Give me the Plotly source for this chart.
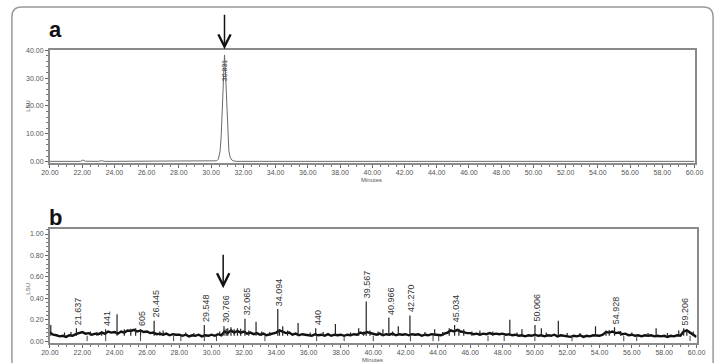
import plotly.graph_objects as go

W, H = 726, 363

# ---------------- Panel a data (typed from picture) ----------------
a_time = [20.0, 21.0, 21.9, 22.05, 22.2, 23.0, 23.2, 23.4, 25.0, 26.0, 28.0, 29.5, 30.2,
          30.35, 30.45, 30.55, 30.62, 30.68, 30.74, 30.79, 30.83, 30.87, 30.92, 30.98,
          31.04, 31.1, 31.18, 31.28, 31.4, 31.6, 33.0, 35.0, 37.0, 40.0, 45.0, 50.0, 55.0, 60.0]
a_lsu = [0.1, 0.1, 0.1, 0.6, 0.15, 0.1, 0.35, 0.1, 0.1, 0.1, 0.1, 0.1, 0.15,
         0.3, 0.9, 3.5, 8.5, 16.0, 26.0, 34.0, 38.3, 35.0, 27.0, 17.0,
         9.0, 4.0, 1.6, 0.6, 0.25, 0.1, 0.1, 0.15, 0.1, 0.1, 0.1, 0.1, 0.1, 0.1]
a_peak_time = 30.831
a_peak_label = "30.831"

# ---------------- Panel b data (typed from picture) ----------------
b_start, b_step = 20.0, 0.2
b_baseline = [
    0.08, 0.06, 0.055, 0.045, 0.05, 0.04, 0.055, 0.05, 0.065, 0.075,
    0.085, 0.07, 0.075, 0.06, 0.07, 0.065, 0.08, 0.07, 0.09, 0.08,
    0.085, 0.07, 0.09, 0.08, 0.10, 0.095, 0.105, 0.09, 0.10, 0.085,
    0.09, 0.075, 0.08, 0.065, 0.07, 0.06, 0.07, 0.055, 0.065, 0.06,
    0.06, 0.05, 0.06, 0.045, 0.055, 0.05, 0.06, 0.045, 0.055, 0.05,
    0.06, 0.05, 0.065, 0.055, 0.09, 0.075, 0.10, 0.08, 0.095, 0.08,
    0.09, 0.07, 0.08, 0.065, 0.075, 0.06, 0.07, 0.055, 0.065, 0.07,
    0.08, 0.10, 0.085, 0.075, 0.08, 0.06, 0.07, 0.055, 0.065, 0.06,
    0.06, 0.05, 0.065, 0.055, 0.06, 0.05, 0.065, 0.05, 0.06, 0.055,
    0.06, 0.05, 0.06, 0.055, 0.065, 0.06, 0.08, 0.07, 0.085, 0.075,
    0.07, 0.06, 0.07, 0.055, 0.065, 0.06, 0.07, 0.055, 0.065, 0.06,
    0.065, 0.055, 0.065, 0.06, 0.065, 0.05, 0.06, 0.055, 0.065, 0.06,
    0.06, 0.055, 0.07, 0.08, 0.10, 0.09, 0.105, 0.09, 0.085, 0.075,
    0.075, 0.065, 0.07, 0.06, 0.07, 0.065, 0.075, 0.065, 0.07, 0.065,
    0.07, 0.06, 0.065, 0.055, 0.06, 0.05, 0.055, 0.045, 0.055, 0.05,
    0.06, 0.05, 0.055, 0.045, 0.055, 0.05, 0.06, 0.045, 0.055, 0.05,
    0.05, 0.04, 0.05, 0.045, 0.055, 0.04, 0.05, 0.045, 0.055, 0.05,
    0.05, 0.06, 0.085, 0.08, 0.09, 0.075, 0.08, 0.065, 0.07, 0.055,
    0.06, 0.05, 0.055, 0.045, 0.055, 0.05, 0.055, 0.045, 0.05, 0.045,
    0.05, 0.04, 0.05, 0.045, 0.055, 0.05, 0.09, 0.10, 0.08, 0.06,
    0.04,
]
b_time = [round(b_start + i * b_step, 2) for i in range(len(b_baseline))]

# labelled peaks
b_peak_time = [21.637, 23.441, 25.605, 26.445, 29.548, 30.766, 32.065, 34.094, 36.440,
               39.567, 40.966, 42.270, 45.034, 50.006, 54.928, 59.206]
b_peak_height = [0.12, 0.11, 0.11, 0.19, 0.15, 0.14, 0.21, 0.30, 0.12,
                 0.37, 0.22, 0.24, 0.15, 0.15, 0.13, 0.12]
b_peak_label = ["21.637", "441", "605", "26.445", "29.548", "30.766", "32.065", "34.094", "440",
                "39.567", "40.966", "42.270", "45.034", "50.006", "54.928", "59.206"]
# unlabelled spikes
b_spike_time = [20.05, 24.15, 27.0, 31.2, 31.6, 32.75, 34.4, 35.35, 37.66, 39.1, 40.6,
                41.55, 43.8, 44.7, 46.6, 48.45, 49.2, 50.4, 51.45, 53.75, 57.5, 58.9]
b_spike_height = [0.15, 0.25, 0.10, 0.13, 0.12, 0.18, 0.14, 0.17, 0.16, 0.12, 0.11,
                  0.14, 0.11, 0.12, 0.10, 0.20, 0.11, 0.12, 0.19, 0.14, 0.12, 0.10]
# small noise spikes
b_noise_time = [20.9, 21.3, 22.5, 22.9, 23.2, 24.6, 25.0, 25.3, 26.8, 28.4, 28.9, 30.5, 30.9,
                31.0, 31.4, 31.8, 32.3, 33.1, 33.6, 34.2, 34.7, 36.1, 36.9, 38.6, 39.4,
                39.8, 40.3, 41.2, 43.2, 44.3, 45.3, 45.6, 46.1, 47.4, 48.9, 50.7, 52.0,
                52.8, 54.4, 54.6, 55.3, 56.0, 57.0, 58.2, 59.4, 59.8]
b_noise_height = [0.08, 0.085, 0.09, 0.085, 0.095, 0.11, 0.115, 0.12, 0.09, 0.08, 0.075, 0.09, 0.115,
                  0.12, 0.11, 0.115, 0.1, 0.09, 0.085, 0.11, 0.1, 0.08, 0.085, 0.08, 0.09,
                  0.1, 0.09, 0.09, 0.085, 0.085, 0.115, 0.11, 0.09, 0.09, 0.08, 0.08, 0.075,
                  0.075, 0.1, 0.105, 0.095, 0.08, 0.075, 0.075, 0.11, 0.09]
# integration event marks below baseline
b_mark_time = [22.3, 23.45, 25.6, 27.65, 28.1, 29.55, 30.3, 33.3, 36.5, 38.2, 40.0,
               42.3, 43.7, 44.05, 47.1, 48.1, 50.0, 52.3, 55.5, 56.3, 59.6]

x_ticks = list(range(20, 61, 2))
a_y_ticks = [0, 10, 20, 30, 40]
b_y_ticks = [0, 0.2, 0.4, 0.6, 0.8, 1.0]


def px(x):
    return x / W


def py(y):
    return 1 - y / H


FRAME = "#8a8a8a"
TXT = "#555555"
FONT = "Liberation Sans, Arial, sans-serif"

fig = go.Figure()

# panel a
fig.add_trace(go.Scatter(x=a_time, y=a_lsu, mode="lines", line=dict(color="#6a6a6a", width=1),
                         xaxis="x", yaxis="y", hoverinfo="skip"))

# panel b baseline
fig.add_trace(go.Scatter(x=b_time, y=b_baseline, mode="lines", line=dict(color="#111111", width=2.4),
                         xaxis="x2", yaxis="y2", hoverinfo="skip"))
# spikes
sx, sy = [], []
for t, h in (list(zip(b_peak_time, b_peak_height)) + list(zip(b_spike_time, b_spike_height))
             + list(zip(b_noise_time, b_noise_height))):
    sx += [t, t, None]
    sy += [0.05, h, None]
fig.add_trace(go.Scatter(x=sx, y=sy, mode="lines", line=dict(color="#222222", width=1.2),
                         xaxis="x2", yaxis="y2", hoverinfo="skip"))
mx, my = [], []
for t in b_mark_time:
    mx += [t, t, None]
    my += [0.05, 0.0, None]
fig.add_trace(go.Scatter(x=mx, y=my, mode="lines", line=dict(color="#444444", width=1),
                         xaxis="x2", yaxis="y2", hoverinfo="skip"))

axis_common = dict(showgrid=False, zeroline=False, showline=True, linecolor=FRAME, linewidth=2,
                   mirror=True, ticks="outside", ticklen=3, tickcolor="#666666", tickwidth=1,
                   tickfont=dict(size=7, color=TXT, family=FONT))

fig.update_layout(
    width=W, height=H, margin=dict(l=0, r=0, t=0, b=0),
    paper_bgcolor="white", plot_bgcolor="white", showlegend=False,
    xaxis=dict(domain=[px(42), px(703)], anchor="y", range=[20, 60], tickvals=x_ticks,
               ticktext=[f"{v:.2f}" for v in x_ticks], ticklabelstandoff=-2,
               minor=dict(ticks="outside", ticklen=2, dtick=0.5, tickcolor="#777777"), **axis_common),
    yaxis=dict(domain=[py(162), py(47)], anchor="x", range=[-0.6, 40], tickvals=a_y_ticks,
               ticktext=[f"{v:.2f}" for v in a_y_ticks],
               minor=dict(ticks="outside", ticklen=2, dtick=2, tickcolor="#777777"), **axis_common),
    xaxis2=dict(domain=[px(42), px(705)], anchor="y2", range=[20, 60], tickvals=x_ticks,
                ticktext=[f"{v:.2f}" for v in x_ticks], ticklabelstandoff=-2,
                minor=dict(ticks="outside", ticklen=2, dtick=0.5, tickcolor="#777777"), **axis_common),
    yaxis2=dict(domain=[py(345), py(229)], anchor="x2", range=[-0.02, 1.045], tickvals=b_y_ticks,
                ticktext=[f"{v:.2f}" for v in b_y_ticks],
                minor=dict(ticks="outside", ticklen=2, dtick=0.04, tickcolor="#777777"), **axis_common),
)

ann = []
C = dict(xanchor="center", yanchor="middle", xref="paper", yref="paper", showarrow=False)
# panel letters
ann.append(dict(text="<b>a</b>", x=px(48), y=py(26), font=dict(size=22, color="#111111", family=FONT), **C))
ann.append(dict(text="<b>b</b>", x=px(48), y=py(217), font=dict(size=22, color="#111111", family=FONT), **C))
# axis titles
for yy in (104, 290):
    ann.append(dict(text="LSU", x=px(20), y=py(yy), textangle=-90,
                    font=dict(size=6, color=TXT, family=FONT), **C))
ann.append(dict(text="Minutes", x=px(372), y=py(178.5), font=dict(size=6, color=TXT, family=FONT), **C))
ann.append(dict(text="Minutes", x=px(373), y=py(362), font=dict(size=6, color=TXT, family=FONT), **C))
# arrows
ann.append(dict(text="", x=a_peak_time, y=py(46), xref="x", yref="paper", ax=0, ay=-36,
                showarrow=True, arrowhead=5, arrowsize=1.6, arrowwidth=1.5, arrowcolor="#111111"))
ann.append(dict(text="", x=b_peak_time[5] - 0.05, y=py(289), xref="x2", yref="paper", ax=0, ay=-35,
                showarrow=True, arrowhead=5, arrowsize=1.6, arrowwidth=1.5, arrowcolor="#111111"))
# peak label a
ann.append(dict(text=a_peak_label, x=a_peak_time, y=33, xref="x", yref="y", showarrow=False,
                textangle=-90, font=dict(size=7, color="#444444", family=FONT)))
# peak labels b
for t, h, lab in zip(b_peak_time, b_peak_height, b_peak_label):
    ann.append(dict(text=lab, x=t + 0.1, y=h + 0.01, xref="x2", yref="y2", showarrow=False,
                    textangle=-90, yanchor="bottom", xanchor="center",
                    font=dict(size=9, color="#333333", family=FONT)))
fig.update_layout(annotations=ann)

# outer rounded frame
x0, x1, y0, r = 3, 722, 3, 10
path = (f"M {px(x0)},{py(H + 5)} L {px(x0)},{py(y0 + r)} Q {px(x0)},{py(y0)} {px(x0 + r)},{py(y0)} "
        f"L {px(x1 - r)},{py(y0)} Q {px(x1)},{py(y0)} {px(x1)},{py(y0 + r)} L {px(x1)},{py(H + 5)}")
fig.add_shape(type="path", path=path, xref="paper", yref="paper",
              line=dict(color="#9a9a9a", width=1.5))

fig.write_html("out.html")
